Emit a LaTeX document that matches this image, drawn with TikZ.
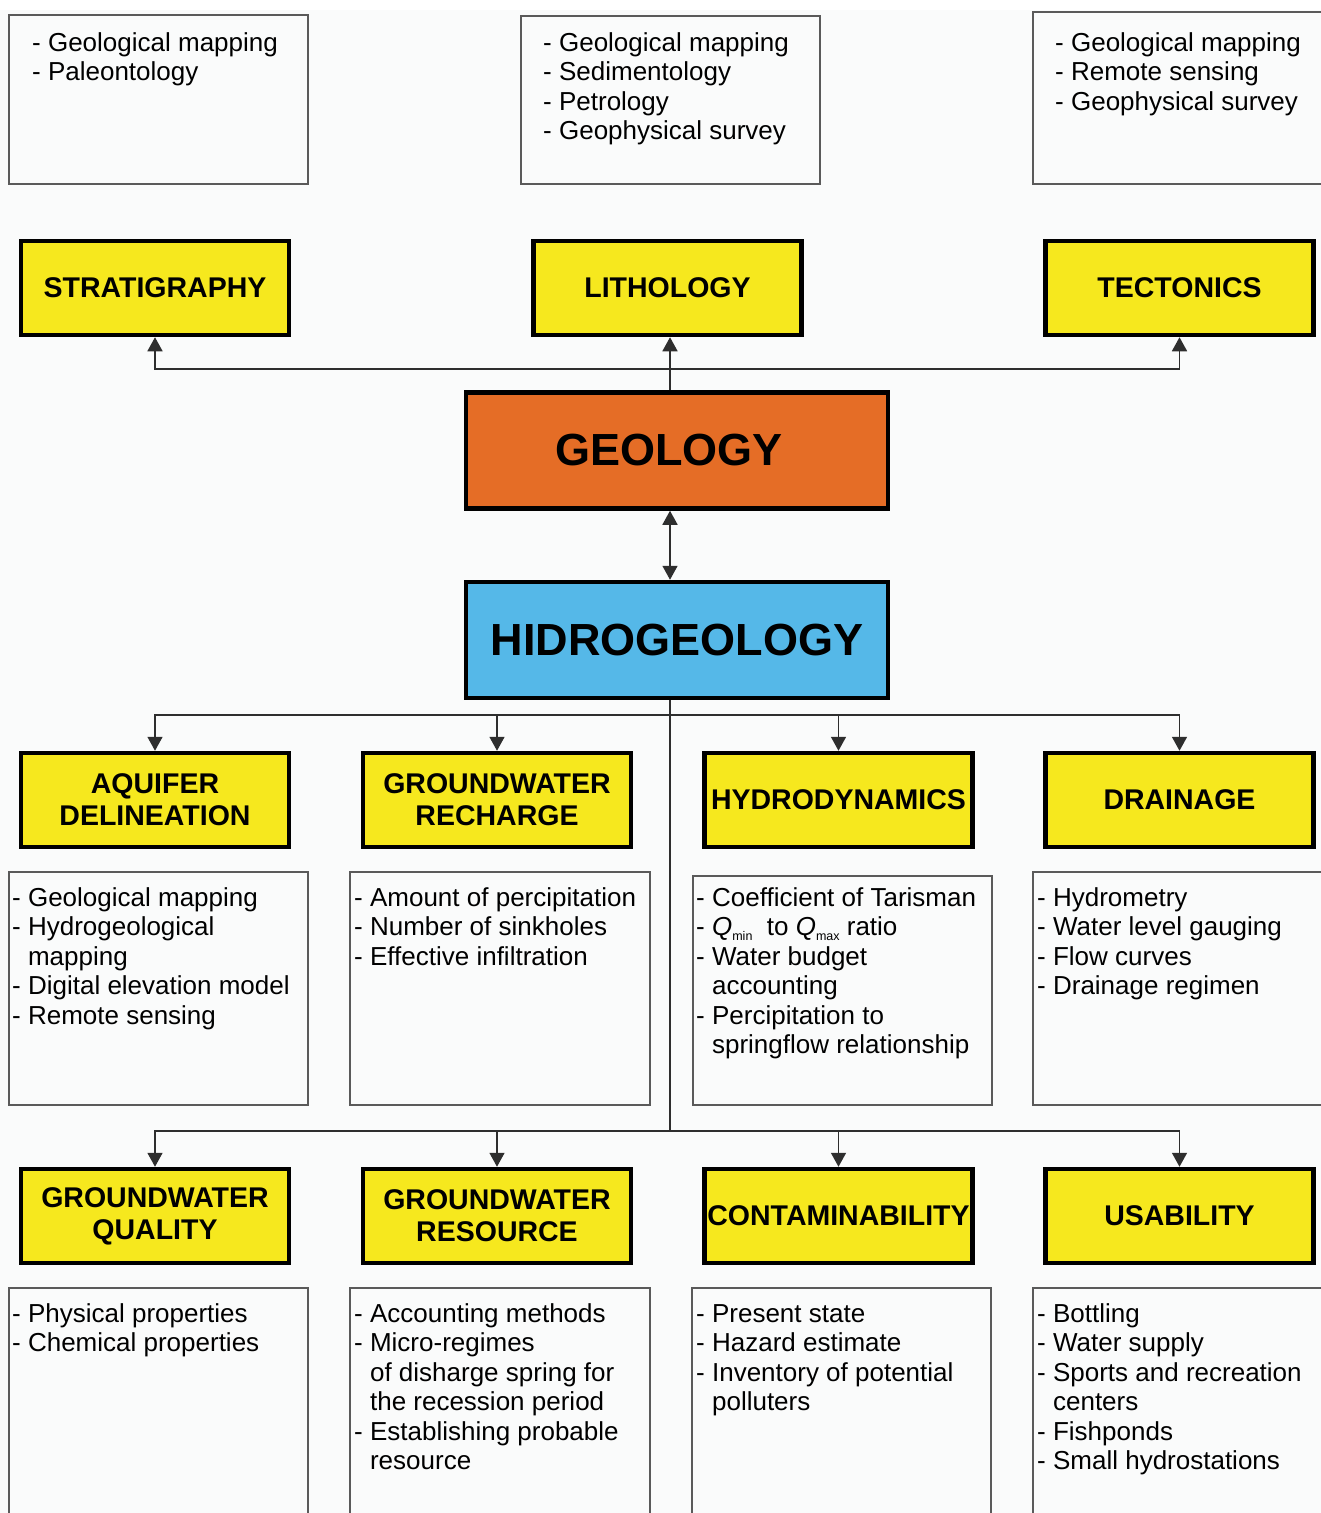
\documentclass[tikz,border=0pt]{standalone}
\usepackage{fontspec}
\setmainfont{Liberation Sans}
\usetikzlibrary{arrows.meta}

\definecolor{boxyellow}{HTML}{F6E81E}
\definecolor{geoorange}{HTML}{E56D26}
\definecolor{hydroblue}{HTML}{55B8E8}
\definecolor{paper}{HTML}{FAFBFB}
\definecolor{framegray}{HTML}{5A5A5A}
\definecolor{wirecol}{HTML}{2E2E2E}

% small lowered index for Q_min / Q_max
\newcommand\lowsub[1]{\raisebox{-5pt}{\fontsize{12.5}{12.5}\selectfont #1}}

\tikzset{
  topic/.style={draw=black, line width=4.5pt, fill=boxyellow,
    minimum width=268pt, minimum height=94pt, inner sep=0pt, align=center,
    font=\bfseries\fontsize{28.5}{32}\selectfont},
  core/.style={draw=black, line width=4.5pt,
    minimum width=422pt, minimum height=116pt, inner sep=0pt,
    font=\bfseries\fontsize{45}{50}\selectfont},
  listframe/.style={draw=framegray, line width=1.5pt, fill=paper},
  items/.style={anchor=north west, inner sep=0pt, align=left,
    font=\fontsize{26}{29.5}\selectfont},
  wire/.style={draw=wirecol, line width=1.6pt},
  arrowline/.style={wire, -{Triangle[width=15pt,length=14pt]}},
  twoway/.style={wire, {Triangle[width=15pt,length=14pt]}-{Triangle[width=15pt,length=14pt]}},
}

\begin{document}
\begin{tikzpicture}[x=1pt,y=-1pt]
\clip (0,0) rectangle (1321,1513);
\fill[white] (0,0) rectangle (1321,1513);
\fill[paper] (0,10) rectangle (1321,1513);

% ---------- method lists above the geology topics ----------
\draw[listframe] (9,15) rectangle (308,184);
\draw[listframe] (521,16) rectangle (820,184);
\draw[listframe] (1033,12) rectangle (1330,184);
\node[items] (m1) at (32,30.35) {\strut- Geological mapping\\- Paleontology};
\node[items] (m2) at (543,30.35) {\strut- Geological mapping\\- Sedimentology\\- Petrology\\- Geophysical survey};
\node[items] (m3) at (1055,30.35) {\strut- Geological mapping\\- Remote sensing\\- Geophysical survey};

% ---------- geology topics ----------
\node[topic] (strat) at (155,288) {STRATIGRAPHY};
\node[topic] (lith)  at (667.5,288) {LITHOLOGY};
\node[topic] (tect)  at (1179.5,288) {TECTONICS};

% ---------- core disciplines ----------
\node[core, fill=geoorange] (geo)   at (677,450.5) {GEOLOGY\rule{16pt}{0pt}};
\node[core, fill=hydroblue] (hydro) at (677,640) {HIDROGEOLOGY};

\coordinate (up) at (670,369);
\draw[wire] (geo.north -| up) -- (up);
\draw[arrowline] (up) -| (strat.south);
\draw[arrowline] (up) -- (lith.south -| up);
\draw[arrowline] (up) -| (tect.south);
\draw[twoway] (geo.south -| up) -- (hydro.north -| up);

% ---------- hydrogeology topics, first row ----------
\node[topic] (aq)    at (155,800)    {AQUIFER\\DELINEATION};
\node[topic] (rech)  at (497,800)    {GROUNDWATER\\RECHARGE};
\node[topic] (dyn)   at (838.5,800)  {HYDRODYNAMICS};
\node[topic] (drain) at (1179.5,800) {DRAINAGE};

% ---------- hydrogeology topics, second row ----------
\node[topic] (qual)  at (155,1216)    {GROUNDWATER\\QUALITY};
\node[topic] (res)   at (497,1216)    {GROUNDWATER\\RESOURCE};
\node[topic] (cont)  at (838.5,1216)  {CONTAMINABILITY};
\node[topic] (usab)  at (1179.5,1216) {USABILITY};

\coordinate (bus2) at (670,715);
\coordinate (bus3) at (670,1131);
\draw[wire] (hydro.south -| bus2) -- (bus3);
\draw[arrowline] (bus2) -| (aq.north);
\draw[arrowline] (bus2) -| (rech.north);
\draw[arrowline] (bus2) -| (dyn.north);
\draw[arrowline] (bus2) -| (drain.north);
\draw[arrowline] (bus3) -| (qual.north);
\draw[arrowline] (bus3) -| (res.north);
\draw[arrowline] (bus3) -| (cont.north);
\draw[arrowline] (bus3) -| (usab.north);

% ---------- method lists, first row ----------
\draw[listframe] (9,872) rectangle (308,1105);
\draw[listframe] (350,872) rectangle (650,1105);
\draw[listframe] (693,876) rectangle (992,1105);
\draw[listframe] (1033,872) rectangle (1330,1105);
\node[items] (l1) at (12,885.35) {\strut- Geological mapping\\- Hydrogeological\\\phantom{- }mapping\\- Digital elevation model\\- Remote sensing};
\node[items] (l2) at (354,885.35) {\strut- Amount of percipitation\\- Number of sinkholes\\- Effective infiltration};
\node[items] (l3) at (696,885.35) {\strut- Coefficient of Tarisman\\- \textit{Q}\lowsub{min}\ \ to \textit{Q}\lowsub{max} ratio\\- Water budget\\\phantom{- }accounting\\- Percipitation to\\\phantom{- }springflow relationship};
\node[items] (l4) at (1037,885.35) {\strut- Hydrometry\\- Water level gauging\\- Flow curves\\- Drainage regimen};

% ---------- method lists, second row ----------
\draw[listframe] (9,1288) rectangle (308,1530);
\draw[listframe] (350,1288) rectangle (650,1530);
\draw[listframe] (692,1288) rectangle (991,1530);
\draw[listframe] (1033,1288) rectangle (1330,1530);
\node[items] (n1) at (12,1301.35) {\strut- Physical properties\\- Chemical properties};
\node[items] (n2) at (354,1301.35) {\strut- Accounting methods\\- Micro-regimes\\\phantom{- }of disharge spring for\\\phantom{- }the recession period\\- Establishing probable\\\phantom{- }resource};
\node[items] (n3) at (696,1301.35) {\strut- Present state\\- Hazard estimate\\- Inventory of potential\\\phantom{- }polluters};
\node[items] (n4) at (1037,1301.35) {\strut- Bottling\\- Water supply\\- Sports and recreation\\\phantom{- }centers\\- Fishponds\\- Small hydrostations};
\end{tikzpicture}
\end{document}
